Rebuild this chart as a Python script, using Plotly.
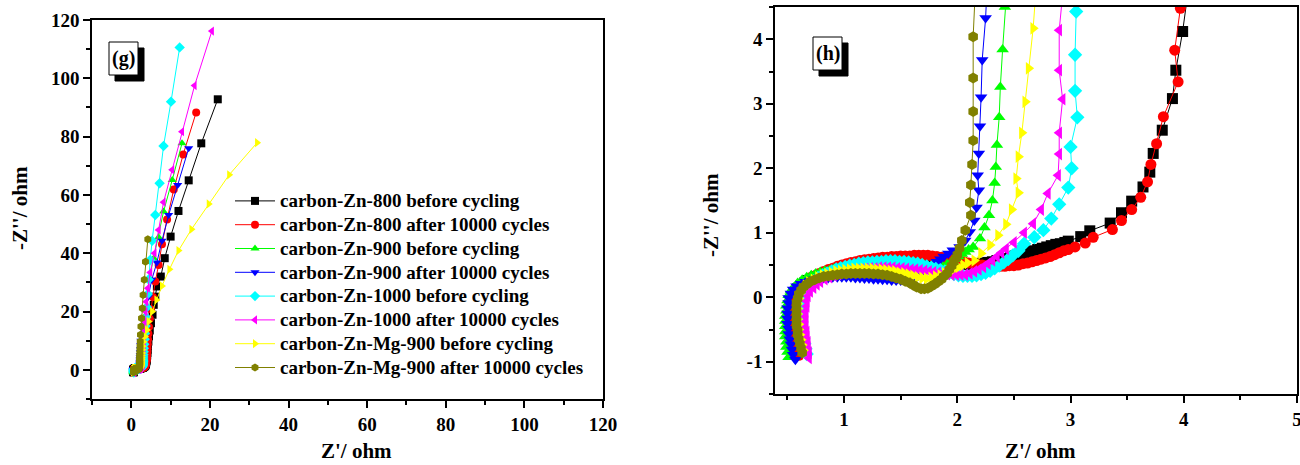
import plotly.graph_objects as go

names = ["carbon-Zn-800 before cycling", "carbon-Zn-800 after 10000 cycles",
         "carbon-Zn-900 before cycling", "carbon-Zn-900 after 10000 cycles",
         "carbon-Zn-1000 before cycling", "carbon-Zn-1000 after 10000 cycles",
         "carbon-Zn-Mg-900 before cycling", "carbon-Zn-Mg-900 after 10000 cycles"]
colors = ["#000000", "#FF0000", "#00FF00", "#0000FF", "#00FFFF", "#FF00FF", "#FFFF00", "#808000"]
symbols = ["square", "circle", "triangle-up", "triangle-down", "diamond",
           "triangle-left", "triangle-right", "hexagon"]

# (Z', -Z'') points, high frequency -> low frequency
zn800_before = [(0.57,-0.88),(0.56,-0.80),(0.55,-0.72),(0.54,-0.64),(0.54,-0.56),(0.53,-0.48),(0.53,-0.40),(0.53,-0.32),(0.53,-0.24),(0.54,-0.16),(0.54,-0.08),(0.55,0.00),
    (0.57,0.07),(0.59,0.13),(0.62,0.18),(0.65,0.22),(0.68,0.26),(0.72,0.29),(0.75,0.32),(0.79,0.35),(0.83,0.37),(0.87,0.39),(0.91,0.41),(0.95,0.43),(0.99,0.45),(1.03,0.47),(1.07,0.48),(1.11,0.50),(1.15,0.51),(1.19,0.52),(1.23,0.53),(1.27,0.54),(1.31,0.55),(1.35,0.55),(1.39,0.56),(1.43,0.56),(1.47,0.57),(1.51,0.57),(1.55,0.58),(1.59,0.58),(1.63,0.58),(1.67,0.58),(1.71,0.58),(1.75,0.57),(1.79,0.57),(1.83,0.56),(1.87,0.56),(1.91,0.55),(1.95,0.54),(1.99,0.53),(2.03,0.52),(2.07,0.51),(2.11,0.51),(2.15,0.51),(2.19,0.52),(2.23,0.53),(2.27,0.54),(2.31,0.55),(2.35,0.57),(2.39,0.58),(2.43,0.60),(2.47,0.62),(2.51,0.64),(2.55,0.66),(2.59,0.68),(2.63,0.70),(2.67,0.72),(2.71,0.74),(2.75,0.76),(2.79,0.78),(2.83,0.80),(2.87,0.82),(2.91,0.83),(2.95,0.85),(2.98,0.87),
    (3.09,0.94),(3.17,1.03),(3.35,1.15),(3.45,1.31),(3.54,1.49),(3.64,1.71),(3.70,1.94),(3.73,2.23),(3.81,2.59),(3.90,3.08),(3.93,3.52),(3.99,4.12),
    (4.05,4.9),(4.10,5.8),(4.17,6.9),(4.25,8.2),(4.35,9.7),(4.50,11.5),(4.70,13.5),(5.00,16.0),(5.40,18.9),(5.70,22.3),(6.10,25.1),(6.50,28.6),(7.50,32.0),(8.50,38.3),(10.0,45.7),(12.0,54.5),(14.6,65.0),(17.8,77.7),(22.0,92.8)]

zn800_after = [(0.60,-0.90),(0.59,-0.82),(0.58,-0.74),(0.57,-0.66),(0.56,-0.58),(0.56,-0.50),(0.55,-0.42),(0.55,-0.34),(0.55,-0.26),(0.55,-0.18),(0.56,-0.10),(0.56,-0.02),
    (0.58,0.06),(0.60,0.12),(0.62,0.18),(0.65,0.23),(0.68,0.27),(0.71,0.31),(0.75,0.34),(0.78,0.37),(0.82,0.40),(0.86,0.43),(0.90,0.45),(0.94,0.48),(0.98,0.50),(1.02,0.52),(1.06,0.54),(1.10,0.55),(1.14,0.57),(1.18,0.58),(1.22,0.59),(1.26,0.60),(1.30,0.61),(1.34,0.62),(1.38,0.62),(1.42,0.63),(1.46,0.63),(1.50,0.64),(1.54,0.64),(1.58,0.64),(1.62,0.65),(1.66,0.65),(1.70,0.65),(1.74,0.65),(1.78,0.64),(1.82,0.63),(1.86,0.62),(1.90,0.61),(1.94,0.59),(1.98,0.58),(2.02,0.56),(2.06,0.55),(2.10,0.53),(2.14,0.52),(2.18,0.51),(2.22,0.50),(2.26,0.49),(2.30,0.48),(2.34,0.48),(2.38,0.48),(2.42,0.48),(2.46,0.49),(2.50,0.49),(2.54,0.50),(2.58,0.52),(2.62,0.53),(2.66,0.55),(2.70,0.57),(2.74,0.59),(2.78,0.61),(2.82,0.63),(2.86,0.66),(2.90,0.69),(2.94,0.72),(2.98,0.74),(3.04,0.78),(3.13,0.84),
    (3.20,0.93),(3.37,1.05),(3.45,1.19),(3.54,1.36),(3.62,1.55),(3.68,1.79),(3.71,2.06),(3.76,2.38),(3.82,2.80),(3.95,3.34),(3.92,3.83),(3.97,4.48),
    (4.02,5.3),(4.07,6.3),(4.12,7.4),(4.18,8.8),(4.25,10.4),(4.35,12.4),(4.50,14.7),(4.70,17.5),(5.00,20.8),(5.50,25.0),(6.10,30.3),(6.95,36.0),(7.80,43.1),(9.10,51.6),(10.8,61.9),(13.2,73.9),(16.5,88.3)]

zn900_before = [(0.51,-0.93),(0.50,-0.85),(0.49,-0.77),(0.49,-0.69),(0.48,-0.61),(0.48,-0.53),(0.48,-0.45),(0.48,-0.37),(0.48,-0.29),(0.49,-0.21),(0.49,-0.13),(0.50,-0.05),
    (0.51,0.03),(0.53,0.10),(0.56,0.16),(0.59,0.22),(0.63,0.27),(0.67,0.31),(0.71,0.34),(0.75,0.37),(0.79,0.39),(0.83,0.41),(0.87,0.42),(0.91,0.44),(0.95,0.45),(0.99,0.46),(1.03,0.47),(1.07,0.48),(1.11,0.48),(1.15,0.49),(1.19,0.49),(1.23,0.50),(1.27,0.50),(1.31,0.50),(1.35,0.50),(1.39,0.50),(1.43,0.49),(1.47,0.49),(1.51,0.49),(1.55,0.48),(1.59,0.48),(1.63,0.47),(1.67,0.47),(1.71,0.46),(1.75,0.46),(1.79,0.46),(1.83,0.47),(1.87,0.48),(1.91,0.51),(1.95,0.55),(1.98,0.59),(2.01,0.63),(2.04,0.67),(2.07,0.70),(2.10,0.74),(2.14,0.78),
    (2.20,0.91),(2.24,1.08),(2.28,1.27),(2.31,1.50),(2.33,1.77),(2.34,2.02),(2.35,2.36),(2.37,2.79),(2.38,3.26),(2.40,3.84),
    (2.42,4.5),(2.45,5.3),(2.50,6.3),(2.55,7.5),(2.60,8.9),(2.70,10.6),(2.80,12.6),(3.00,15.0),(3.30,18.0),(3.60,21.5),(4.00,25.8),(4.60,31.5),(5.70,38.3),(6.95,45.5),(8.20,54.3),(10.4,65.1),(12.9,77.7)]

zn900_after = [(0.57,-0.97),(0.55,-0.89),(0.54,-0.81),(0.53,-0.73),(0.52,-0.65),(0.51,-0.57),(0.51,-0.49),(0.50,-0.41),(0.50,-0.33),(0.50,-0.25),(0.50,-0.17),(0.51,-0.09),(0.51,-0.01),
    (0.53,0.06),(0.55,0.12),(0.58,0.17),(0.62,0.21),(0.66,0.24),(0.70,0.26),(0.74,0.28),(0.78,0.29),(0.82,0.30),(0.86,0.30),(0.90,0.31),(0.94,0.31),(0.98,0.31),(1.02,0.31),(1.06,0.31),(1.10,0.30),(1.14,0.30),(1.18,0.29),(1.22,0.29),(1.26,0.28),(1.30,0.28),(1.34,0.27),(1.38,0.27),(1.42,0.26),(1.46,0.26),(1.50,0.26),(1.54,0.27),(1.58,0.28),(1.62,0.30),(1.65,0.33),(1.69,0.37),(1.72,0.41),(1.76,0.46),(1.79,0.50),(1.82,0.55),(1.85,0.59),(1.88,0.63),(1.92,0.68),(1.96,0.73),(2.02,0.78),
    (2.07,0.88),(2.11,1.01),(2.15,1.19),(2.17,1.39),(2.19,1.66),(2.18,1.89),(2.19,2.23),(2.20,2.65),(2.21,3.10),(2.22,3.68),(2.25,4.33),
    (2.27,5.1),(2.30,6.0),(2.33,7.1),(2.37,8.4),(2.45,10.0),(2.60,11.9),(2.85,14.2),(3.20,17.0),(3.70,20.5),(4.30,25.0),(5.20,30.9),(6.50,36.8),(7.80,44.3),(9.50,53.1),(11.8,63.4),(14.6,76.0)]

zn1000_before = [(0.67,-0.88),(0.66,-0.80),(0.65,-0.72),(0.64,-0.64),(0.63,-0.56),(0.63,-0.48),(0.62,-0.40),(0.62,-0.32),(0.62,-0.24),(0.62,-0.16),(0.63,-0.08),(0.63,0.00),
    (0.65,0.08),(0.67,0.14),(0.70,0.20),(0.73,0.25),(0.77,0.30),(0.81,0.34),(0.85,0.37),(0.89,0.40),(0.93,0.43),(0.97,0.45),(1.01,0.47),(1.05,0.49),(1.09,0.50),(1.13,0.52),(1.17,0.53),(1.21,0.54),(1.25,0.54),(1.29,0.55),(1.33,0.55),(1.37,0.56),(1.41,0.56),(1.45,0.56),(1.49,0.55),(1.53,0.55),(1.57,0.54),(1.61,0.53),(1.65,0.52),(1.69,0.50),(1.73,0.48),(1.77,0.46),(1.81,0.44),(1.85,0.42),(1.89,0.40),(1.93,0.38),(1.97,0.36),(2.01,0.34),(2.05,0.33),(2.09,0.33),(2.13,0.33),(2.17,0.34),(2.21,0.36),(2.25,0.38),(2.29,0.41),(2.33,0.45),(2.37,0.49),(2.41,0.54),(2.45,0.59),(2.49,0.65),(2.54,0.72),
    (2.59,0.83),(2.68,0.93),(2.76,1.04),(2.83,1.22),(2.90,1.44),(2.98,1.70),(3.01,2.00),(3.00,2.33),(3.06,2.79),(3.04,3.20),(3.04,3.76),(3.05,4.43),
    (3.10,5.2),(3.15,6.2),(3.20,7.4),(3.30,8.8),(3.40,10.5),(3.50,12.5),(3.65,15.0),(3.80,18.0),(4.00,21.5),(4.20,26.0),(4.40,31.0),(4.80,37.7),(5.30,44.3),(6.10,53.1),(7.20,64.0),(8.20,76.8),(10.1,92.0),(12.3,110.6)]

zn1000_after = [(0.69,-0.94),(0.69,-0.86),(0.68,-0.78),(0.68,-0.70),(0.67,-0.62),(0.67,-0.54),(0.66,-0.46),(0.66,-0.38),(0.66,-0.30),(0.66,-0.22),(0.67,-0.14),(0.67,-0.06),
    (0.68,0.02),(0.70,0.09),(0.73,0.15),(0.76,0.20),(0.79,0.24),(0.83,0.28),(0.87,0.31),(0.91,0.34),(0.95,0.36),(0.99,0.38),(1.03,0.40),(1.07,0.41),(1.11,0.42),(1.15,0.43),(1.19,0.44),(1.23,0.45),(1.27,0.45),(1.31,0.46),(1.35,0.46),(1.39,0.46),(1.43,0.46),(1.47,0.45),(1.51,0.45),(1.55,0.44),(1.59,0.43),(1.63,0.43),(1.67,0.42),(1.71,0.41),(1.75,0.40),(1.79,0.39),(1.83,0.38),(1.87,0.37),(1.91,0.36),(1.95,0.35),(1.99,0.35),(2.03,0.35),(2.07,0.35),(2.11,0.37),(2.15,0.40),(2.19,0.43),(2.23,0.47),(2.27,0.52),(2.31,0.57),(2.35,0.63),(2.39,0.69),(2.43,0.75),
    (2.50,0.85),(2.59,1.00),(2.67,1.14),(2.74,1.36),(2.80,1.61),(2.89,1.89),(2.90,2.22),(2.90,2.55),(2.93,3.07),(2.90,3.52),(2.90,4.14),
    (2.95,4.9),(3.00,5.8),(3.05,6.9),(3.10,8.2),(3.15,9.7),(3.20,11.5),(3.30,13.7),(3.40,16.5),(3.60,20.0),(3.80,23.4),(4.20,28.0),(4.80,33.4),(5.90,40.0),(6.95,48.0),(8.20,57.5),(10.4,68.6),(12.9,81.7),(16.1,97.5),(20.5,116.2)]

znmg900_before = [(0.64,-0.82),(0.63,-0.74),(0.62,-0.66),(0.61,-0.58),(0.60,-0.50),(0.60,-0.42),(0.59,-0.34),(0.59,-0.26),(0.59,-0.18),(0.59,-0.10),(0.60,-0.02),
    (0.61,0.06),(0.63,0.12),(0.66,0.18),(0.69,0.23),(0.73,0.27),(0.77,0.31),(0.81,0.34),(0.85,0.36),(0.89,0.38),(0.93,0.40),(0.97,0.41),(1.01,0.42),(1.05,0.43),(1.09,0.44),(1.13,0.44),(1.17,0.44),(1.21,0.44),(1.25,0.44),(1.29,0.43),(1.33,0.43),(1.37,0.42),(1.41,0.41),(1.45,0.40),(1.49,0.38),(1.53,0.37),(1.57,0.35),(1.61,0.33),(1.65,0.31),(1.69,0.30),(1.73,0.29),(1.77,0.30),(1.81,0.32),(1.85,0.34),(1.89,0.37),(1.93,0.40),(1.97,0.44),(2.01,0.47),(2.05,0.50),(2.09,0.53),(2.15,0.57),
    (2.21,0.68),(2.29,0.81),(2.36,0.96),(2.43,1.13),(2.48,1.36),(2.54,1.62),(2.52,1.84),(2.54,2.18),(2.57,2.55),(2.60,3.03),(2.63,3.55),(2.67,4.17),
    (2.70,4.9),(2.75,5.8),(2.80,6.9),(2.90,8.1),(3.10,9.6),(3.50,11.4),(4.00,13.7),(4.40,16.6),(5.30,20.0),(6.40,24.0),(7.80,28.8),(9.70,34.5),(12.0,40.9),(15.3,48.2),(19.7,56.9),(24.9,66.9),(32.0,77.9)]

znmg900_after = [(0.63,-0.86),(0.62,-0.79),(0.61,-0.72),(0.60,-0.65),(0.59,-0.58),(0.59,-0.51),(0.58,-0.44),(0.58,-0.37),(0.58,-0.30),(0.58,-0.23),(0.58,-0.16),(0.58,-0.09),(0.59,-0.02),
    (0.60,0.05),(0.62,0.11),(0.64,0.16),(0.67,0.20),(0.70,0.24),(0.74,0.27),(0.78,0.30),(0.82,0.32),(0.86,0.33),(0.90,0.34),(0.94,0.35),(0.98,0.36),(1.02,0.36),(1.06,0.37),(1.10,0.37),(1.14,0.37),(1.18,0.37),(1.22,0.37),(1.26,0.36),(1.30,0.36),(1.34,0.35),(1.38,0.34),(1.42,0.32),(1.46,0.30),(1.50,0.28),(1.54,0.25),(1.58,0.22),(1.61,0.19),(1.64,0.16),(1.68,0.13),(1.71,0.13),(1.74,0.14),(1.77,0.17),(1.80,0.20),(1.83,0.24),(1.86,0.28),(1.88,0.32),(1.91,0.37),(1.93,0.43),(1.95,0.49),(1.97,0.55),(1.99,0.61),(2.00,0.66),(2.02,0.76),
    (2.04,0.88),(2.07,1.04),(2.12,1.27),(2.11,1.47),(2.12,1.74),(2.13,2.06),(2.14,2.43),(2.14,2.88),(2.14,3.40),(2.14,4.04),
    (2.16,4.8),(2.18,5.7),(2.20,6.8),(2.23,8.1),(2.27,9.7),(2.33,12.0),(2.45,14.9),(2.60,17.7),(2.80,21.1),(3.00,25.7),(3.30,30.9),(3.60,37.1),(4.20,44.8)]

series = [zn800_before, zn800_after, zn900_before, zn900_after,
          zn1000_before, zn1000_after, znmg900_before, znmg900_after]

right_y_ticks = [-1, 0, 1, 2, 3, 4]
right_y_labels = ["-1", "0", "1", "2", "3", "4"]

W, H = 1300, 465
FONT = "Liberation Serif"

fig = go.Figure()
for i, pts in enumerate(series):
    xs = [p[0] for p in pts]
    ys = [p[1] for p in pts]
    fig.add_trace(go.Scatter(
        x=xs, y=ys,
        name='<span style="font-size:19px">%s</span>' % names[i],
        mode="lines+markers",
        line=dict(color=colors[i], width=1),
        marker=dict(symbol=symbols[i], size=8, color=colors[i]),
        xaxis="x", yaxis="y", showlegend=True))
for i, pts in enumerate(series):
    xs = [p[0] for p in pts]
    ys = [p[1] for p in pts]
    fig.add_trace(go.Scatter(
        x=xs, y=ys, name=names[i], mode="lines+markers",
        line=dict(color=colors[i], width=1),
        marker=dict(symbol=symbols[i], size=11, color=colors[i]),
        xaxis="x2", yaxis="y2", showlegend=False))

tickfont = dict(family=FONT, size=19, color="black", weight="bold")

def ax(domain, rng, dtick, mdtick, anchor, tickvals=None, ticktext=None):
    d = dict(domain=domain, range=rng, anchor=anchor, showgrid=False, zeroline=False,
             automargin=False, ticklabeloverflow="allow",
             showline=True, linecolor="black", linewidth=1.5, mirror=True,
             ticks="outside", ticklen=7, tickwidth=1.5, tickcolor="black",
             tickfont=tickfont,
             minor=dict(ticks="outside", ticklen=4, tickwidth=1.5, tickcolor="black",
                        dtick=mdtick, tick0=0, showgrid=False))
    if tickvals is not None:
        d.update(tickmode="array", tickvals=tickvals, ticktext=ticktext)
    else:
        d.update(tickmode="linear", tick0=0, dtick=dtick)
    return d

fig.update_layout(
    width=W, height=H, margin=dict(l=0, r=0, t=0, b=0, autoexpand=False),
    paper_bgcolor="white", plot_bgcolor="white",
    xaxis=ax([92/W, 603/W], [-10, 120], 20, 10, "y"),
    yaxis=ax([1-399/H, 1-20/H], [-10, 120], 20, 10, "x"),
    xaxis2=ax([775/W, 1297/W], [0.39, 5], 1, 0.5, "y2"),
    yaxis2=ax([1-394/H, 1-7/H], [-1.5, 4.5], 1, 0.5, "x2", right_y_ticks, right_y_labels),
    legend=dict(x=230/W, y=1-184/H, xanchor="left", yanchor="top",
                font=dict(family=FONT, size=16, color="black", weight="bold"),
                bgcolor="rgba(0,0,0,0)", tracegroupgap=0, itemwidth=40),
    showlegend=True,
)

def px2paper(x, y):
    return x / W, 1 - y / H

shapes = []
annotations = []
for lbl, (bx0, by0, bx1, by1), off in [("(g)", (109, 42, 138, 75), (6, 6)),
                                       ("(h)", (813, 37, 842, 70), (6, 6))]:
    sx0, sy0 = px2paper(bx0 + off[0], by0 + off[1])
    sx1, sy1 = px2paper(bx1 + off[0], by1 + off[1])
    shapes.append(dict(type="rect", xref="paper", yref="paper", x0=sx0, x1=sx1, y0=sy1, y1=sy0,
                       fillcolor="black", line=dict(color="black", width=1)))
    x0, y0 = px2paper(bx0, by0)
    x1, y1 = px2paper(bx1, by1)
    shapes.append(dict(type="rect", xref="paper", yref="paper", x0=x0, x1=x1, y0=y1, y1=y0,
                       fillcolor="white", line=dict(color="black", width=1)))
    cx, cy = px2paper((bx0 + bx1) / 2, (by0 + by1) / 2)
    annotations.append(dict(text="<b>%s</b>" % lbl, x=cx, y=cy, xref="paper", yref="paper",
                            showarrow=False, xanchor="center", yanchor="middle",
                            font=dict(family=FONT, size=20, color="black")))

title_font = dict(family=FONT, size=21, color="black")
for txt, x, y, ang in [("Z'/ ohm", 356, 451, 0), ("Z'/ ohm", 1040, 451, 0),
                       ("-Z''/ ohm", 20, 208, -90), ("-Z''/ ohm", 711, 215, -90)]:
    px_, py_ = px2paper(x, y)
    annotations.append(dict(text="<b>%s</b>" % txt, x=px_, y=py_, xref="paper", yref="paper",
                            showarrow=False, xanchor="center", yanchor="middle",
                            textangle=ang, font=title_font))

fig.update_layout(shapes=shapes, annotations=annotations)
fig.write_html("out.html")
